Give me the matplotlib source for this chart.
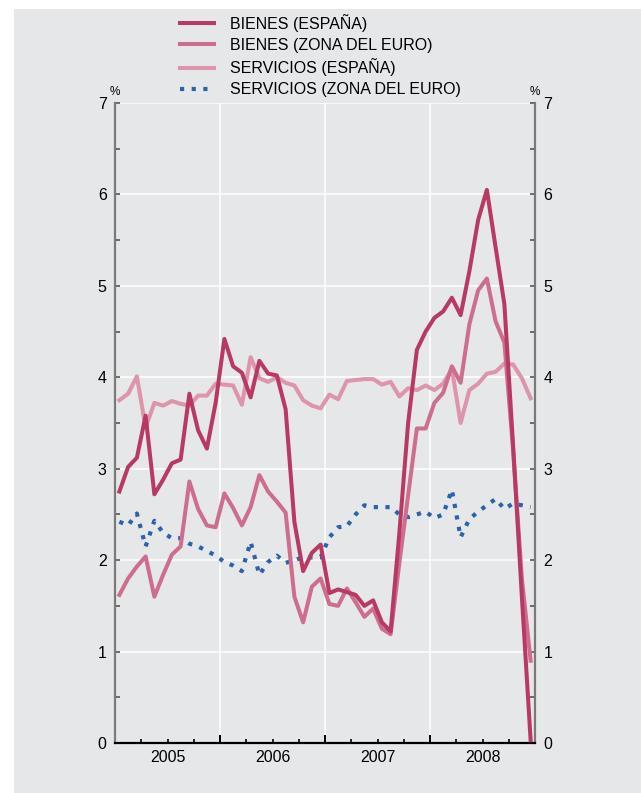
import matplotlib
matplotlib.use("Agg")
import matplotlib.pyplot as plt
from matplotlib.patches import Rectangle
from matplotlib.ticker import FixedLocator, FixedFormatter
import numpy as np

plt.rcParams['font.family'] = ['Liberation Sans', 'DejaVu Sans']

# monthly data, Jan 2005 - Dec 2008
years = ['2005', '2006', '2007', '2008']

bienes_esp = [2.75, 3.02, 3.12, 3.58, 2.72, 2.88, 3.06, 3.10, 3.82, 3.42, 3.22, 3.72,
              4.42, 4.12, 4.05, 3.78, 4.18, 4.04, 4.02, 3.65, 2.42, 1.88, 2.08, 2.17,
              1.64, 1.68, 1.65, 1.62, 1.50, 1.56, 1.32, 1.22, 2.30, 3.50, 4.30, 4.50,
              4.65, 4.72, 4.87, 4.68, 5.16, 5.72, 6.05, 5.42, 4.80, 3.25, 1.60, 0.03]

bienes_euro = [1.62, 1.80, 1.93, 2.04, 1.60, 1.84, 2.06, 2.15, 2.86, 2.56, 2.38, 2.36,
               2.73, 2.57, 2.38, 2.58, 2.93, 2.75, 2.64, 2.52, 1.60, 1.32, 1.71, 1.80,
               1.52, 1.50, 1.69, 1.54, 1.38, 1.47, 1.25, 1.19, 1.97, 2.71, 3.44, 3.44,
               3.72, 3.83, 4.12, 3.94, 4.58, 4.95, 5.08, 4.61, 4.38, 3.20, 1.80, 0.90]

servicios_esp = [3.75, 3.82, 4.01, 3.45, 3.72, 3.69, 3.74, 3.71, 3.69, 3.80, 3.80, 3.93,
                 3.92, 3.91, 3.70, 4.22, 3.99, 3.95, 4.00, 3.94, 3.91, 3.75, 3.69, 3.66,
                 3.81, 3.76, 3.96, 3.97, 3.98, 3.98, 3.92, 3.95, 3.79, 3.88, 3.86, 3.91,
                 3.86, 3.93, 4.09, 3.50, 3.86, 3.93, 4.04, 4.06, 4.15, 4.14, 3.99, 3.77]

servicios_euro = [2.42, 2.38, 2.51, 2.15, 2.43, 2.30, 2.24, 2.24, 2.18, 2.15, 2.10, 2.05,
                  1.98, 1.94, 1.88, 2.20, 1.84, 1.98, 2.05, 1.97, 2.00, 2.03, 2.03, 2.03,
                  2.25, 2.36, 2.37, 2.50, 2.60, 2.58, 2.58, 2.58, 2.50, 2.47, 2.50, 2.53,
                  2.46, 2.50, 2.77, 2.25, 2.45, 2.53, 2.60, 2.67, 2.56, 2.62, 2.60, 2.58]

labels = ['BIENES (ESPAÑA)', 'BIENES (ZONA DEL EURO)',
          'SERVICIOS (ESPAÑA)', 'SERVICIOS (ZONA DEL EURO)']

BG = '#e6e7e8'
C_BESP = '#b83a64'
C_BEUR = '#cd6e8e'
C_SESP = '#de94ab'
C_SEUR = '#2a62ae'

months = np.arange(len(bienes_esp))

fig = plt.figure(figsize=(6.41, 7.93), dpi=100, facecolor='white')
fig.patches.append(Rectangle((14 / 641, 0), 1, 1 - 9 / 793, transform=fig.transFigure,
                             facecolor=BG, edgecolor='none', zorder=-10))

ax = fig.add_axes([115 / 641, 1 - 743 / 793, 420 / 641, 640 / 793])
ax.set_facecolor(BG)

lw = 2.9
ax.plot(months, servicios_euro, color=C_SEUR, lw=3.0, linestyle=(0, (1, 1.8)),
        label=labels[3], zorder=3)
ax.plot(months, servicios_esp, color=C_SESP, lw=lw, label=labels[2], zorder=4)
ax.plot(months, bienes_euro, color=C_BEUR, lw=lw, label=labels[1], zorder=5)
ax.plot(months, bienes_esp, color=C_BESP, lw=lw, label=labels[0], zorder=6)

ax.set_xlim(-0.5, 47.5)
ax.set_ylim(0, 7)

# grid
for v in range(1, 8):
    ax.axhline(v, color='white', lw=1.1, zorder=1)
for b in [11.5, 23.5, 35.5]:
    ax.axvline(b, color='white', lw=1.1, zorder=1)

# spines
ax.spines['top'].set_visible(False)
ax.spines['left'].set_color('#7a7a7a')
ax.spines['right'].set_color('#7a7a7a')
ax.spines['left'].set_linewidth(1.6)
ax.spines['right'].set_linewidth(1.6)
ax.spines['bottom'].set_color('black')
ax.spines['bottom'].set_linewidth(1.6)

# y axis, both sides
ax.set_yticks(range(0, 8))
ax.set_yticks(np.arange(0.5, 7, 1), minor=True)
ax.tick_params(axis='y', which='both', direction='in', length=3.5, width=1.2,
               color='#555555', left=True, right=True, labelleft=True,
               labelright=True, labelsize=11.5, pad=6)

# x axis: year boundaries major, quarters minor, labels at mid-year
ax.xaxis.set_major_locator(FixedLocator([-0.5, 11.5, 23.5, 35.5, 47.5]))
ax.xaxis.set_major_formatter(FixedFormatter(['', '', '', '', '']))
quarters = [q for q in np.arange(2.5, 47, 3) if (q + 0.5) % 12 != 0]
ax.xaxis.set_minor_locator(FixedLocator(quarters))
qlabels = []
for q in quarters:
    if (q - 5.5) % 12 == 0:
        qlabels.append(years[int((q - 5.5) // 12)])
    else:
        qlabels.append('')
ax.xaxis.set_minor_formatter(FixedFormatter(qlabels))
ax.tick_params(axis='x', which='major', direction='in', length=6, width=1.4,
               color='black')
ax.tick_params(axis='x', which='minor', direction='in', length=3, width=1.2,
               color='black', labelsize=11.5, pad=5)

ax.text(-0.5, 7.05, '%', transform=ax.transData, ha='center', va='bottom', fontsize=8.5)
ax.text(47.5, 7.05, '%', transform=ax.transData, ha='center', va='bottom', fontsize=8.5)

handles, labs = ax.get_legend_handles_labels()
order = [3, 2, 1, 0]
fig.legend([handles[i] for i in order], [labs[i] for i in order],
           loc='upper left', bbox_to_anchor=(180 / 641, 1 - 14 / 793),
           frameon=False, fontsize=11.5, handlelength=2.1, handletextpad=1.0,
           labelspacing=0.36, borderpad=0, borderaxespad=0)

fig.savefig('out.png', dpi=100, facecolor='white')
